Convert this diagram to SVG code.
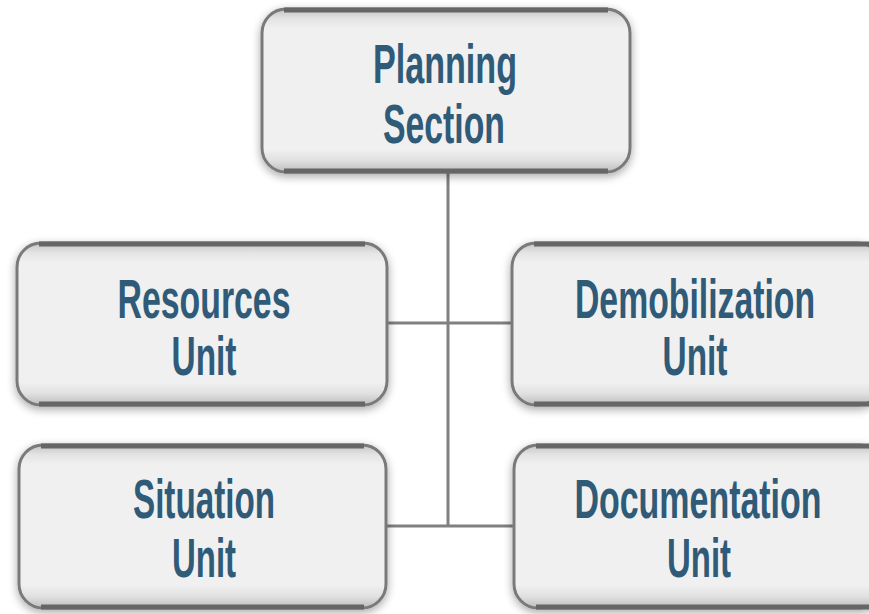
<svg xmlns="http://www.w3.org/2000/svg" width="869" height="614" viewBox="0 0 869 614">
<defs>
<linearGradient id="fillg" x1="0" y1="0" x2="0" y2="1">
<stop offset="0" stop-color="#c4c4c4"/>
<stop offset="0.06" stop-color="#e4e4e4"/>
<stop offset="0.12" stop-color="#f0f0f0"/>
<stop offset="0.86" stop-color="#f0f0f0"/>
<stop offset="0.93" stop-color="#e0e0e0"/>
<stop offset="1" stop-color="#bdbdbd"/>
</linearGradient>
<filter id="shadow" x="-10%" y="-15%" width="120%" height="130%">
<feGaussianBlur in="SourceAlpha" stdDeviation="5"/>
<feOffset dx="0" dy="3" result="b"/>
<feComponentTransfer><feFuncA type="linear" slope="0.35"/></feComponentTransfer>
<feMerge><feMergeNode/><feMergeNode in="SourceGraphic"/></feMerge>
</filter>
<style>
.box{fill:url(#fillg);stroke:#7a7a7a;stroke-width:3;filter:url(#shadow)}
.edge{stroke:#666666;stroke-width:5;stroke-linecap:butt}
.lbl{font-family:"Liberation Sans",Arial,sans-serif;font-size:56px;font-weight:bold;fill:#2f5b78;text-anchor:middle}
.conn{stroke:#808080;stroke-width:3;fill:none}
</style>
</defs>
<rect width="869" height="614" fill="#ffffff"/>
<g id="connectors">
<line class="conn" x1="448" y1="172" x2="448" y2="527"/>
<line class="conn" x1="387" y1="323" x2="512" y2="323"/>
<line class="conn" x1="386" y1="526" x2="514" y2="526"/>
</g>
<g id="planning">
<rect class="box" x="262" y="9" width="368" height="163" rx="24"/>
<line class="edge" x1="284" y1="10" x2="608" y2="10"/>
<line class="edge" x1="284" y1="171" x2="608" y2="171"/>
<text class="lbl" x="445" y="83" textLength="144" lengthAdjust="spacingAndGlyphs">Planning</text>
<text class="lbl" x="444" y="143" textLength="122" lengthAdjust="spacingAndGlyphs">Section</text>
</g>
<g id="resources">
<rect class="box" x="17" y="243" width="370" height="162" rx="24"/>
<line class="edge" x1="39" y1="244" x2="365" y2="244"/>
<line class="edge" x1="39" y1="404" x2="365" y2="404"/>
<text class="lbl" x="204" y="318" textLength="173" lengthAdjust="spacingAndGlyphs">Resources</text>
<text class="lbl" x="204" y="375" textLength="65" lengthAdjust="spacingAndGlyphs">Unit</text>
</g>
<g id="demobilization">
<rect class="box" x="512" y="243" width="370" height="162" rx="24"/>
<line class="edge" x1="534" y1="244" x2="869" y2="244"/>
<line class="edge" x1="534" y1="404" x2="869" y2="404"/>
<text class="lbl" x="695" y="318" textLength="240" lengthAdjust="spacingAndGlyphs">Demobilization</text>
<text class="lbl" x="695" y="375" textLength="65" lengthAdjust="spacingAndGlyphs">Unit</text>
</g>
<g id="situation">
<rect class="box" x="19" y="445" width="367" height="163" rx="24"/>
<line class="edge" x1="41" y1="446" x2="364" y2="446"/>
<line class="edge" x1="41" y1="607" x2="364" y2="607"/>
<text class="lbl" x="204" y="518" textLength="142" lengthAdjust="spacingAndGlyphs">Situation</text>
<text class="lbl" x="204" y="577" textLength="64" lengthAdjust="spacingAndGlyphs">Unit</text>
</g>
<g id="documentation">
<rect class="box" x="514" y="445" width="370" height="163" rx="24"/>
<line class="edge" x1="536" y1="446" x2="869" y2="446"/>
<line class="edge" x1="536" y1="607" x2="869" y2="607"/>
<text class="lbl" x="698" y="518" textLength="247" lengthAdjust="spacingAndGlyphs">Documentation</text>
<text class="lbl" x="699" y="577" textLength="64" lengthAdjust="spacingAndGlyphs">Unit</text>
</g>
</svg>
